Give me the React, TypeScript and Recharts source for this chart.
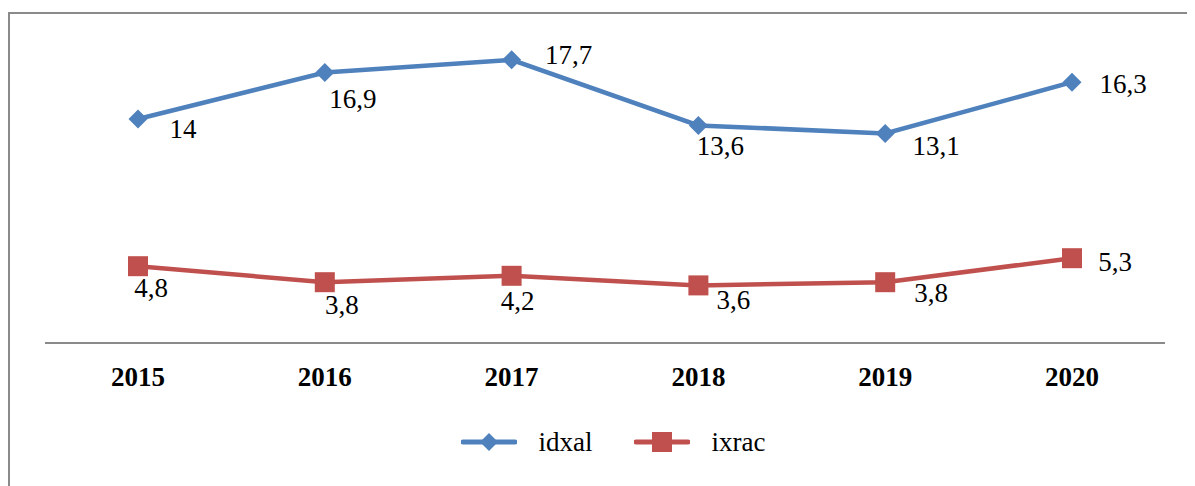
import React from 'react';
import { LineChart, Line, XAxis, YAxis, Legend, LabelList } from 'recharts';

const years = ['2015', '2016', '2017', '2018', '2019', '2020'];
const idxalValues = [14, 16.9, 17.7, 13.6, 13.1, 16.3];
const ixracValues = [4.8, 3.8, 4.2, 3.6, 3.8, 5.3];
const seriesNames = ['idxal', 'ixrac'];

// label placement offsets (style config, not data)
const idxalLabelOffsets = [[45, 10], [28, 26], [57, -5], [22, 21], [51, 13], [51, 2]];
const ixracLabelOffsets = [[13, 22], [17, 23], [6, 25], [35, 15], [46, 11], [43, 4]];

const BLUE = '#4F81BD';
const RED = '#C0504D';
const FONT = '"Liberation Serif", serif';

const data = years.map((y, i) => ({ year: y, idxal: idxalValues[i], ixrac: ixracValues[i] }));

const fmt = (v: number) => String(v).replace('.', ',');

const Diamond = (props: any) => {
  const { cx, cy } = props;
  if (cx == null || cy == null) return null;
  const r = 9.5;
  return <polygon points={`${cx},${cy - r} ${cx + r},${cy} ${cx},${cy + r} ${cx - r},${cy}`} fill={BLUE} />;
};

const Square = (props: any) => {
  const { cx, cy } = props;
  if (cx == null || cy == null) return null;
  const h = 10;
  return <rect x={cx - h} y={cy - h} width={2 * h} height={2 * h} fill={RED} />;
};

const makeLabel = (offsets: number[][]) => (props: any) => {
  const { x, y, value, index } = props;
  const off = offsets[index] || [0, 0];
  return (
    <text
      x={x + off[0]}
      y={y + off[1]}
      textAnchor="middle"
      dominantBaseline="central"
      style={{ fontFamily: FONT, fontSize: 27 }}
      fill="#000"
    >
      {fmt(value)}
    </text>
  );
};

const LegendContent = () => (
  <div
    style={{
      display: 'flex',
      justifyContent: 'center',
      alignItems: 'center',
      height: 30,
      paddingLeft: 23,
      fontFamily: FONT,
      fontSize: 27,
      color: '#000',
    }}
  >
    <svg width={56} height={24} style={{ display: 'block' }}>
      <line x1={2} y1={12} x2={54} y2={12} stroke={BLUE} strokeWidth={5} strokeLinecap="round" />
      <polygon points="28,3 37,12 28,21 19,12" fill={BLUE} />
    </svg>
    <span style={{ marginLeft: 22, lineHeight: '30px', fontFamily: FONT }}>{seriesNames[0]}</span>
    <svg width={56} height={24} style={{ display: 'block', marginLeft: 41 }}>
      <line x1={2} y1={12} x2={54} y2={12} stroke={RED} strokeWidth={5} strokeLinecap="round" />
      <rect x={18} y={2} width={20} height={20} fill={RED} />
    </svg>
    <span style={{ marginLeft: 22, lineHeight: '30px', fontFamily: FONT }}>{seriesNames[1]}</span>
  </div>
);

const XTick = (props: any) => {
  const { x, y, payload } = props;
  return (
    <text
      x={x}
      y={y}
      textAnchor="middle"
      dominantBaseline="central"
      style={{ fontFamily: FONT, fontSize: 27, fontWeight: 'bold' }}
      fill="#000"
    >
      {payload.value}
    </text>
  );
};

export default function App() {
  return (
    <div style={{ position: 'relative', width: 1187, height: 478, overflow: 'hidden', background: '#fff', fontFamily: FONT }}>
      <div
        style={{
          position: 'absolute',
          left: 0,
          top: 4,
          width: 1400,
          height: 700,
          borderLeft: '2px solid #8a8a8a',
          borderTop: '2px solid #8a8a8a',
        }}
      />
      <div style={{ position: 'absolute', left: 0, top: 0 }}>
        <LineChart width={1187} height={478} data={data} margin={{ top: 15, right: 30, left: 37, bottom: 83 }}>
          <XAxis
            dataKey="year"
            height={60}
            padding={{ left: 93, right: 93 }}
            axisLine={{ stroke: '#8a8a8a', strokeWidth: 2 }}
            tickLine={false}
            tickSize={0}
            tickMargin={34}
            tick={<XTick />}
            interval={0}
          />
          <YAxis hide domain={[0, 20]} />
          <Legend
            verticalAlign="middle"
            layout="horizontal"
            wrapperStyle={{ top: 419, left: 0, width: 1187 }}
            content={<LegendContent />}
          />
          <Line
            dataKey="idxal"
            stroke={BLUE}
            strokeWidth={4.5}
            dot={<Diamond />}
            activeDot={false}
            isAnimationActive={false}
          >
            <LabelList dataKey="idxal" content={makeLabel(idxalLabelOffsets)} />
          </Line>
          <Line
            dataKey="ixrac"
            stroke={RED}
            strokeWidth={4.5}
            dot={<Square />}
            activeDot={false}
            isAnimationActive={false}
          >
            <LabelList dataKey="ixrac" content={makeLabel(ixracLabelOffsets)} />
          </Line>
        </LineChart>
      </div>
    </div>
  );
}
